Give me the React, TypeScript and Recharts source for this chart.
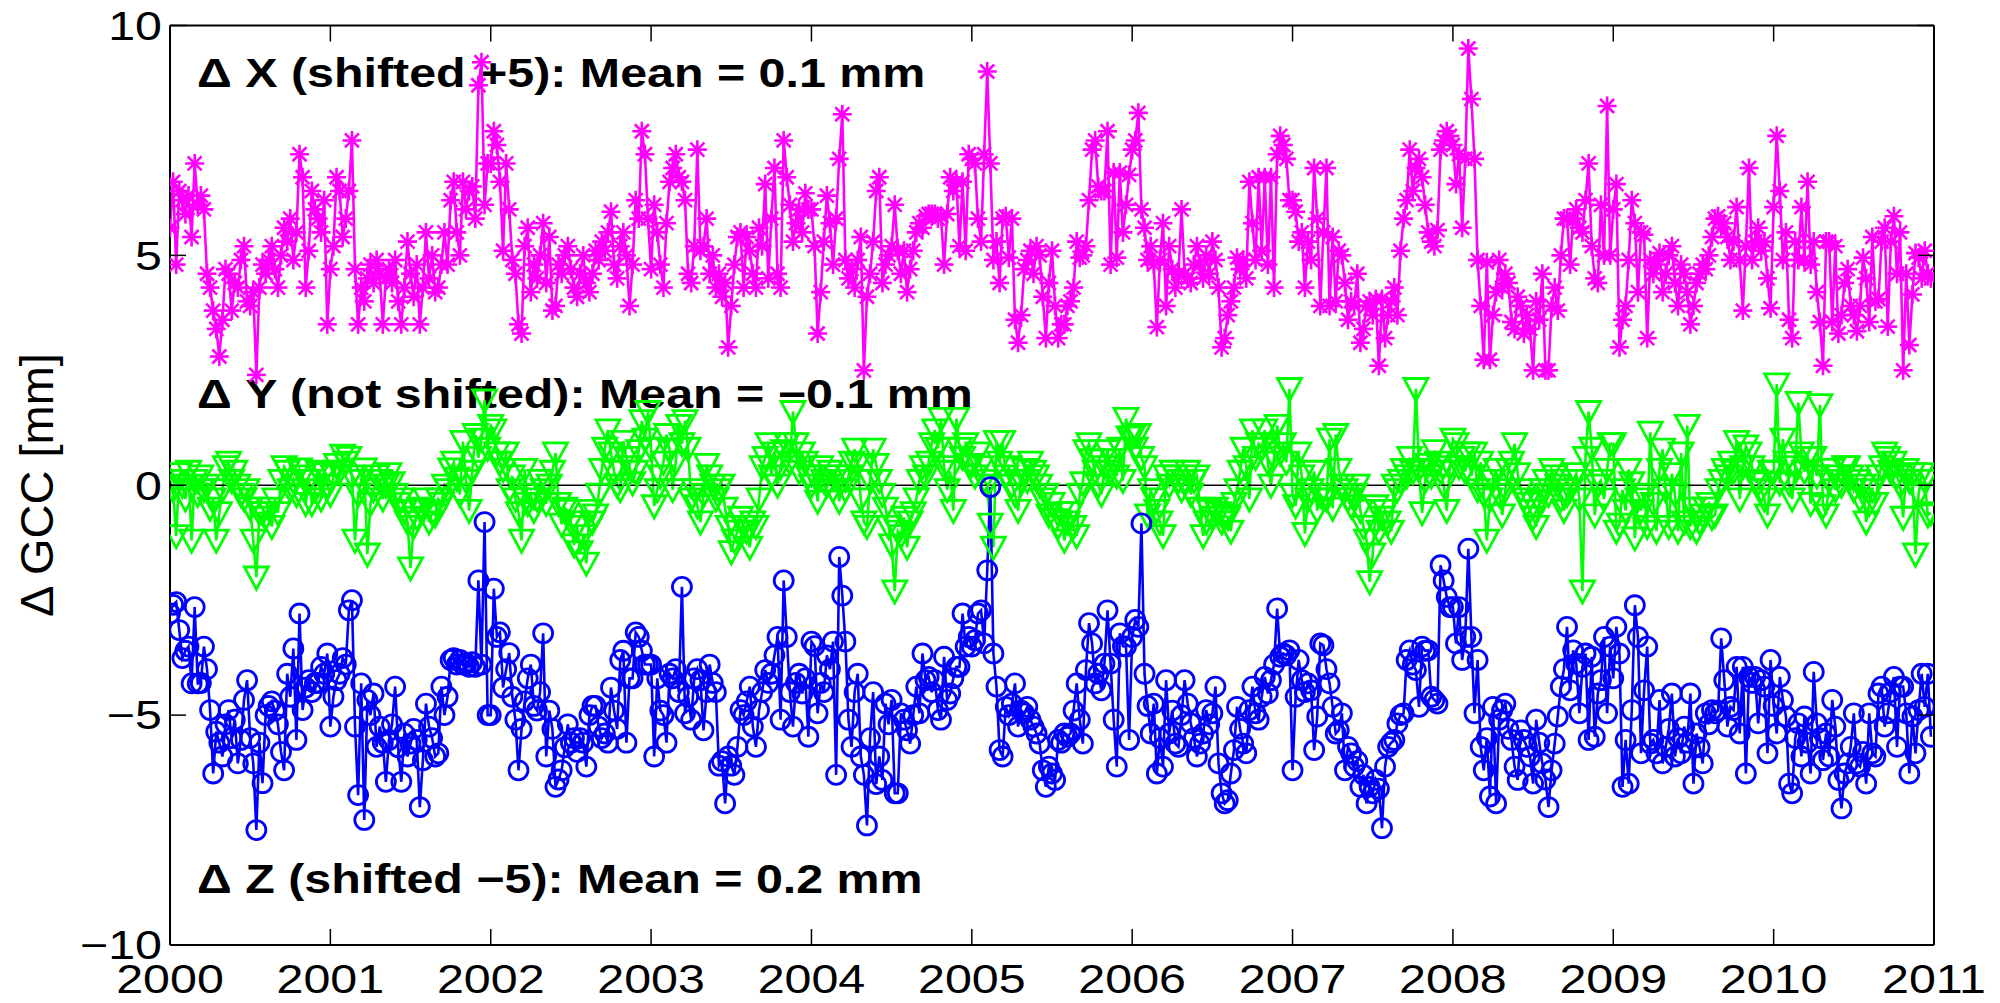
import React from 'react';
import { LineChart, Line, XAxis, YAxis, ReferenceLine } from 'recharts';

// ---------- tick labels ----------
const xTicks = [2000, 2001, 2002, 2003, 2004, 2005, 2006, 2007, 2008, 2009, 2010, 2011];
const yTicks = [-10, -5, 0, 5, 10];
const startYear = 2000;
const samplesPerYear = 52;

// ---------- series (weekly) ----------
// Delta X, shown shifted by +5 mm
const dXShifted = [
  // 2000
  5.6, 6.6, 4.8, 6.4, 6.2, 5.9, 6.3, 5.4, 7.0, 6.1, 6.3, 6.0, 4.6, 4.3, 3.8, 3.4, 2.8, 3.6, 4.7, 4.6, 3.8, 4.4, 4.3, 4.9, 5.2, 4.0,
  3.9, 4.2, 2.4, 4.3, 4.8, 4.6, 4.9, 5.2, 4.7, 4.3, 5.0, 5.6, 5.3, 5.8, 4.9, 5.5, 7.2, 6.7, 4.3, 5.1, 6.4, 6.0, 5.8, 5.5, 6.2, 3.5,
  // 2001
  4.7, 5.2, 6.7, 6.4, 5.4, 5.8, 6.4, 7.5, 4.7, 3.5, 4.3, 4.0, 4.5, 4.8, 4.4, 4.9, 4.6, 3.5, 4.5, 4.7, 4.4, 4.9, 4.0, 3.5, 4.3, 5.3,
  4.6, 4.1, 4.8, 3.5, 4.3, 5.5, 4.5, 5.0, 4.2, 4.3, 4.8, 5.5, 4.8, 6.2, 6.6, 5.5, 5.0, 6.6, 6.0, 6.4, 6.5, 5.8, 8.7, 9.2, 6.1, 7.0,
  // 2002
  7.0, 7.7, 7.4, 6.6, 5.1, 7.0, 6.0, 4.9, 4.6, 3.5, 3.3, 5.2, 5.6, 4.2, 4.8, 4.5, 5.0, 5.7, 4.4, 5.4, 3.8, 3.9, 4.8, 4.6, 5.0, 5.2,
  4.7, 4.3, 4.1, 4.6, 5.0, 4.4, 4.2, 4.6, 5.1, 4.9, 5.3, 5.1, 5.5, 5.95, 4.8, 4.5, 5.2, 5.5, 5.0, 3.9, 4.8, 6.2, 5.8, 7.7, 7.2, 5.8,
  // 2003
  4.7, 6.1, 5.5, 4.8, 4.3, 5.7, 6.6, 6.9, 7.2, 6.7, 6.6, 6.2, 4.6, 4.4, 5.2, 7.3, 5.1, 5.2, 5.8, 4.6, 5.0, 4.3, 4.6, 4.1, 4.4, 3.0,
  3.9, 4.8, 5.4, 5.5, 4.3, 5.4, 5.1, 4.6, 4.3, 5.6, 5.2, 6.55, 4.5, 5.8, 6.9, 4.6, 4.3, 7.5, 6.7, 6.1, 5.3, 5.7, 6.0, 5.5, 6.35, 6.0,
  // 2004
  6.0, 5.2, 3.3, 4.2, 5.3, 6.3, 5.7, 4.8, 5.8, 7.1, 8.07, 4.9, 4.5, 4.7, 4.3, 4.9, 5.4, 2.5, 4.1, 4.6, 5.3, 6.4, 6.7, 4.4, 4.8, 5.0,
  5.2, 6.1, 5.1, 4.6, 5.1, 4.2, 4.7, 5.1, 5.5, 5.7, 5.6, 5.85, 5.9, 5.9, 5.9, 5.8, 5.85, 4.8, 5.9, 6.7, 6.4, 6.6, 5.2, 6.6, 5.1, 7.2,
  // 2005
  7.1, 7.0, 5.8, 5.3, 7.2, 9.0, 7.0, 4.9, 5.3, 4.4, 5.8, 5.85, 4.95, 5.8, 3.6, 3.1, 3.7, 4.7, 4.9, 5.1, 4.6, 5.2, 5.0, 4.1, 3.2, 4.4,
  5.1, 3.9, 3.2, 3.5, 3.5, 3.9, 4.0, 4.3, 5.3, 4.95, 5.0, 5.2, 6.2, 7.3, 7.5, 6.5, 6.4, 6.4, 7.7, 4.8, 6.8, 4.95, 6.8, 5.5, 6.1, 6.75,
  // 2006
  7.3, 7.5, 8.1, 6.0, 5.6, 4.9, 5.2, 4.8, 3.44, 4.9, 5.7, 3.9, 5.2, 4.7, 4.3, 4.6, 6.0, 4.6, 4.5, 4.4, 4.8, 5.2, 4.8, 4.5, 5.0, 4.6,
  5.3, 4.9, 4.3, 3.0, 3.2, 3.7, 4.0, 4.3, 4.95, 4.7, 4.9, 4.5, 6.6, 5.7, 4.9, 6.7, 5.1, 6.7, 4.8, 6.7, 4.3, 7.2, 7.6, 7.4, 7.1, 6.2,
  // 2007
  6.2, 5.95, 5.3, 5.5, 4.3, 5.3, 4.9, 6.9, 5.8, 3.9, 5.5, 6.9, 3.9, 5.4, 4.0, 5.1, 5.0, 4.4, 3.6, 4.0, 3.9, 4.6, 3.1, 3.4, 3.9, 4.0,
  3.7, 4.05, 2.6, 4.05, 3.2, 3.7, 4.0, 4.3, 3.7, 5.1, 5.8, 6.2, 7.3, 6.4, 6.9, 7.1, 6.7, 6.1, 5.5, 5.3, 5.2, 5.55, 7.3, 7.5, 7.7, 7.6,
  // 2008
  7.4, 6.55, 7.2, 5.6, 7.1, 9.5, 8.4, 7.1, 4.9, 3.9, 2.73, 4.85, 2.73, 3.7, 4.2, 4.9, 4.3, 4.6, 4.4, 3.55, 3.4, 4.1, 3.9, 3.3, 3.7, 3.4,
  2.5, 4.0, 3.6, 4.6, 2.5, 2.5, 3.9, 4.3, 3.8, 5.0, 5.8, 5.8, 4.8, 5.8, 6.0, 5.6, 5.5, 6.2, 7.0, 5.2, 4.5, 4.4, 6.1, 5.0, 8.25, 5.0,
  // 2009
  6.0, 6.55, 3.0, 3.6, 3.9, 4.9, 6.2, 5.7, 4.2, 5.5, 5.45, 3.2, 4.9, 4.6, 4.8, 5.05, 4.2, 4.6, 5.0, 5.2, 4.4, 3.9, 4.8, 4.6, 4.2, 3.5,
  3.9, 4.4, 4.6, 4.8, 4.7, 5.0, 5.4, 5.8, 5.85, 5.6, 5.7, 5.4, 4.9, 5.3, 6.05, 4.9, 3.8, 5.2, 6.9, 4.9, 5.3, 5.6, 5.1, 5.3, 4.5, 3.85,
  // 2010
  6.05, 7.6, 6.4, 4.9, 5.5, 3.6, 3.2, 5.3, 4.9, 6.05, 4.9, 6.6, 4.8, 5.3, 4.2, 3.55, 2.6, 5.3, 5.3, 3.55, 5.2, 3.3, 3.7, 4.4, 4.7, 3.9,
  3.7, 3.35, 3.9, 4.95, 4.5, 3.55, 5.4, 4.0, 4.05, 5.3, 5.6, 3.45, 5.3, 5.85, 4.6, 5.5, 2.5, 4.6, 3.05, 4.15, 5.05, 4.95, 4.5, 5.1, 4.6, 4.5,
];

// Delta Y, not shifted
const dY = [
  // 2000
  0.1, -0.1, -1.1, 0.25, 0.0, -0.3, 0.3, -1.2, 0.1, -0.2, 0.2, -0.1, 0.0, -0.5, -0.3, -1.2, -0.6, -0.1, 0.4, 0.5, 0.1, 0.3, 0.0, -0.2, -0.3, -0.1,
  -0.5, -1.2, -2.0, -0.6, -0.6, -0.7, -0.5, -0.9, -0.3, -0.6, 0.1, 0.4, 0.3, -0.1, 0.1, -0.2, 0.35, 0.2, -0.4, 0.1, -0.4, -0.1, 0.3, -0.3, 0.25, 0.0,
  // 2001
  -0.2, 0.2, 0.45, 0.3, 0.65, 0.5, 0.6, 0.2, -1.2, -0.2, 0.1, 0.35, -1.5, -0.4, -0.1, 0.2, 0.1, -0.3, 0.0, 0.25, 0.05, -0.2, -0.4, -0.3, -0.55, -0.8,
  -1.8, -0.9, -0.7, -0.5, -0.55, -0.3, -0.8, -0.6, -0.65, -0.3, -0.4, 0.0, -0.1, 0.35, 0.5, 0.15, -0.2, 0.95, 0.1, -0.55, 0.3, 1.1, 0.6, 1.0, 1.85, 0.8,
  // 2002
  1.3, 1.2, 0.7, 0.5, 0.34, 0.7, -0.1, 0.2, -0.3, -0.6, -1.2, 0.34, -0.4, -0.2, -0.55, -0.3, 0.1, -0.1, -0.4, 0.0, 0.3, 0.7, -0.4, -0.85, -0.5, -0.55,
  -0.8, -1.3, -0.9, -1.45, -1.1, -1.7, -0.55, -0.8, -0.65, -0.2, 0.34, 0.8, 1.2, 0.7, 0.3, 0.0, -0.1, 0.95, 0.6, 0.4, 0.05, 0.3, 0.75, 1.4, 1.0, 1.6,
  // 2003
  0.8, -0.45, -0.1, 0.2, 0.5, 1.1, 0.78, -0.1, 0.5, 1.3, 0.9, 1.4, 0.8, -0.3, -0.1, -0.45, -0.8, -0.2, 0.45, 0.2, 0.0, -0.3, -0.1, 0.0, -0.5, -0.9,
  -1.45, -1.2, -1.0, -0.7, -0.9, -1.0, -1.35, -0.8, -0.9, -0.3, 0.4, 0.6, 0.9, 0.2, 0.7, 0.0, 0.4, 0.75, 0.9, 0.5, 1.6, 0.9, 0.3, 0.7, 0.5, 0.2,
  // 2004
  0.0, 0.2, -0.35, 0.4, 0.1, 0.0, 0.3, -0.1, 0.2, -0.35, 0.1, -0.1, 0.2, 0.5, 0.78, 0.45, -0.3, -0.8, -0.9, 0.1, 0.78, 0.45, 0.1, -0.2, -0.5, -0.9,
  -1.3, -2.3, -1.0, -1.1, -0.7, -1.35, -0.8, -0.6, -0.3, 0.1, 0.4, 0.2, 0.5, 0.9, 1.2, 0.8, 1.45, 0.4, -0.1, 0.3, -0.55, 1.45, 0.8, 0.6, 0.9, 0.45,
  // 2005
  0.45, 0.2, 0.7, 0.4, 0.1, 0.0, -0.85, -1.35, 0.95, 0.5, 0.95, 0.2, 0.4, 0.0, -0.2, -0.55, 0.1, 0.34, 0.1, 0.5, 0.3, 0.2, 0.0, -0.3, -0.2, -0.65,
  -0.4, -0.75, -0.9, -0.6, -1.2, -0.8, -0.6, -0.9, -1.1, -0.2, 0.05, 0.75, 0.9, 0.55, 0.3, 0.0, -0.2, 0.4, 0.75, 0.3, 0.55, 0.2, 0.8, 0.1, 1.45, 1.05,
  // 2006
  1.05, 0.8, 1.1, 0.6, 0.4, -0.65, -0.1, -0.3, -0.55, -0.8, -1.1, 0.2, 0.0, 0.3, 0.2, 0.1, -0.1, 0.1, 0.3, -0.2, 0.1, 0.2, -0.5, -1.1, -0.8, -0.55,
  -0.7, -0.5, -0.6, -0.8, -0.65, -0.7, -1.0, -0.4, -0.1, 0.3, 0.8, 0.4, -0.3, 1.2, 0.6, 0.9, 0.8, 1.2, 0.5, 0.0, 0.6, 1.3, 0.7, 0.9, 0.5, 2.1,
  // 2007
  -0.2, -0.45, 0.7, 0.2, -1.05, -0.3, -0.1, 0.3, -0.55, -0.2, -0.3, -0.3, 1.0, -0.5, 1.1, 0.34, 0.0, -0.1, -0.3, -0.45, -0.2, 0.0, -0.55, -0.9, -1.2, -2.1,
  -1.5, -0.45, -1.0, -0.7, -0.55, -0.8, -1.0, 0.0, -0.1, 0.1, 0.34, 0.2, 0.6, 0.3, 2.1, 0.34, -0.6, 0.1, 0.45, 0.2, 0.75, 0.5, 0.3, 0.0, -0.55, 0.4,
  // 2008
  1.0, 0.9, 0.4, 0.6, 0.3, 0.7, 0.2, 0.7, -0.1, 0.5, -0.2, -1.2, -0.3, 0.1, 0.34, -0.2, -0.65, -0.1, 0.34, 0.5, 0.9, 0.25, -0.1, -0.3, -0.4, -0.55,
  -0.7, -0.9, -0.35, -0.1, 0.1, -0.2, 0.34, 0.2, 0.0, -0.3, -0.55, -0.2, -0.1, 0.1, 0.25, -0.3, -2.3, 0.6, 1.6, 0.8, -0.65, 0.0, 0.1, -0.3, 0.34, 0.9,
  // 2009
  0.9, -1.0, -0.85, -0.1, -0.55, 0.34, 0.05, -1.15, -0.3, -0.55, -0.2, -0.9, 1.15, -0.4, -1.0, 0.34, 0.78, -0.1, -0.9, 0.25, -0.2, -1.0, 0.7, -0.8, 1.3, -0.9,
  -0.5, -1.0, -0.8, -0.65, -0.5, -0.4, -0.7, -0.65, -0.1, 0.1, 0.34, 0.2, 0.5, 0.3, 0.95, -0.3, 0.4, 0.85, 0.7, 0.4, 0.1, 0.05, -0.1, -0.3, -0.65, 0.3,
  // 2010
  0.3, 2.2, 0.05, 1.0, 0.5, 0.05, -0.3, 0.4, 1.8, 0.7, 0.3, 0.6, -0.4, 0.6, 0.2, 1.75, -0.45, -0.65, 0.1, 0.34, -0.1, 0.2, 0.0, 0.4, 0.4, 0.2,
  -0.1, 0.1, -0.3, 0.0, -0.8, -0.4, -0.1, -0.4, 0.2, 0.4, 0.7, 0.6, 0.3, 0.5, 0.2, 0.0, -0.7, 0.34, 0.1, 0.25, -1.5, -0.2, 0.25, 0.1, -0.65, -0.6,
];

// Delta Z, shown shifted by -5 mm
const dZShifted = [
  // 2000
  -2.79, -2.6, -2.54, -3.15, -3.76, -3.6, -3.51, -4.31, -2.65, -4.31, -4.3, -3.51, -4.0, -4.89, -6.27, -5.36, -5.6, -5.9, -5.2, -4.89, -5.5, -5.1, -6.05, -5.54, -4.67, -4.24,
  -5.5, -6.05, -7.5, -5.6, -6.48, -5.0, -4.8, -4.7, -4.9, -5.2, -5.8, -6.2, -4.1, -4.6, -3.55, -5.54, -2.79, -4.89, -4.4, -4.24, -4.5, -4.3, -4.3, -3.95, -4.1, -3.66,
  // 2001
  -5.25, -4.6, -4.24, -4.1, -3.76, -3.9, -2.72, -2.5, -5.25, -6.74, -4.31, -7.28, -4.67, -5.0, -4.53, -5.69, -5.25, -5.6, -6.45, -5.54, -5.2, -4.38, -5.7, -6.45, -5.4, -5.9,
  -5.62, -5.3, -5.54, -7.0, -5.98, -4.75, -5.25, -5.5, -5.9, -5.83, -4.38, -5.0, -4.6, -3.8, -3.76, -3.9, -3.8, -3.9, -3.87, -3.95, -3.85, -3.95, -2.07, -3.9, -0.8, -5.0,
  // 2002
  -5.0, -2.25, -3.3, -3.2, -4.4, -4.0, -3.65, -4.6, -5.1, -6.2, -5.3, -4.7, -4.2, -3.9, -4.8, -4.9, -4.5, -3.22, -5.9, -4.9, -5.3, -6.56, -6.4, -6.2, -5.7, -5.2,
  -5.6, -5.5, -5.8, -5.5, -5.6, -6.12, -5.0, -4.8, -4.8, -5.25, -5.5, -5.4, -5.6, -4.4, -4.9, -5.3, -3.8, -3.6, -5.6, -4.2, -4.2, -3.2, -3.3, -3.6, -3.9, -3.9,
  // 2003
  -3.9, -5.9, -4.2, -4.9, -5.0, -5.6, -4.1, -4.2, -4.0, -4.5, -2.21, -4.96, -4.6, -5.1, -4.2, -4.0, -4.24, -5.33, -4.5, -3.9, -4.3, -4.5, -6.1, -6.0, -6.92, -5.9,
  -6.1, -6.3, -5.69, -4.89, -5.0, -4.7, -4.38, -5.25, -5.69, -4.89, -4.5, -4.02, -4.3, -4.1, -3.7, -3.3, -5.1, -2.07, -3.3, -4.5, -5.25, -4.3, -4.1, -4.53, -4.2, -5.47,
  // 2004
  -3.4, -3.5, -4.96, -4.3, -4.5, -3.7, -4.0, -3.4, -6.3, -1.56, -2.4, -3.4, -5.1, -5.69, -4.5, -4.1, -5.9, -6.3, -7.4, -5.5, -4.5, -6.5, -5.9, -6.41, -4.75, -5.2,
  -4.67, -6.7, -6.7, -4.96, -5.1, -5.33, -5.62, -5.0, -4.38, -4.96, -3.66, -4.24, -4.17, -4.5, -4.24, -4.89, -5.1, -3.73, -4.67, -4.53, -4.2, -3.95, -3.95, -2.79, -3.51, -3.3,
  // 2005
  -3.51, -3.37, -2.79, -2.72, -3.44, -1.85, -0.04, -3.66, -4.38, -5.76, -5.9, -4.82, -5.0, -4.75, -4.31, -5.25, -4.9, -4.96, -4.82, -5.1, -5.25, -5.4, -5.62, -6.2, -6.56, -6.12,
  -6.27, -6.41, -5.54, -5.6, -5.4, -5.47, -5.4, -4.9, -4.31, -5.1, -5.62, -4.02, -3.0, -3.44, -4.31, -4.1, -4.46, -3.88, -2.72, -3.88, -5.1, -6.12, -3.22, -3.5, -3.51, -5.54,
  // 2006
  -3.3, -2.93, -3.08, -0.83, -4.1, -4.8, -5.4, -4.75, -6.27, -5.5, -6.12, -4.24, -5.4, -4.9, -5.62, -5.69, -5.0, -4.24, -4.75, -5.18, -5.5, -5.9, -5.62, -5.4, -4.89, -5.2,
  -4.96, -4.38, -6.05, -6.7, -6.92, -6.85, -6.27, -5.76, -4.82, -5.3, -5.62, -5.83, -4.89, -4.38, -4.96, -5.1, -4.6, -4.17, -4.53, -4.24, -3.9, -2.68, -3.73, -3.66, -3.7, -3.59,
  // 2007
  -6.2, -4.6, -3.8, -4.24, -4.5, -4.31, -4.46, -5.76, -5.03, -3.44, -3.48, -4.0, -4.31, -4.82, -5.4, -5.33, -4.96, -6.2, -5.69, -5.83, -6.12, -6.0, -6.56, -6.3, -6.92, -6.56,
  -6.7, -6.41, -6.6, -7.46, -6.12, -5.69, -5.6, -5.54, -5.18, -5.0, -4.96, -3.8, -3.59, -3.9, -4.02, -4.82, -3.51, -3.6, -3.59, -4.6, -4.67, -4.75, -1.74, -2.07, -2.43, -2.65,
  // 2008
  -2.65, -3.44, -2.65, -3.8, -3.3, -1.38, -3.3, -4.96, -3.8, -5.69, -6.2, -5.5, -6.77, -4.82, -6.92, -5.1, -4.89, -4.75, -5.3, -5.54, -6.12, -6.41, -5.33, -5.54, -5.69, -5.9,
  -6.49, -5.1, -5.6, -6.05, -6.4, -7.0, -6.2, -5.62, -5.03, -4.38, -4.0, -3.08, -4.46, -3.59, -3.88, -4.96, -3.95, -3.66, -5.54, -3.73, -5.47, -4.53, -4.24, -3.3, -4.96, -3.51,
  // 2009
  -4.2, -3.08, -3.66, -6.56, -5.54, -6.49, -4.89, -2.61, -3.3, -5.83, -4.46, -3.51, -5.62, -5.54, -5.83, -4.67, -6.05, -5.69, -5.3, -4.53, -5.9, -5.5, -5.83, -5.25, -5.6, -4.53,
  -6.49, -5.4, -5.7, -6.05, -4.96, -5.2, -4.89, -4.96, -4.9, -3.33, -4.24, -5.25, -4.82, -4.89, -3.95, -5.4, -3.95, -6.27, -4.17, -4.3, -4.17, -5.18, -4.24, -4.38, -5.83, -3.8,
  // 2010
  -4.8, -5.4, -4.17, -4.67, -5.03, -6.49, -6.7, -5.5, -5.18, -5.9, -5.03, -5.6, -6.27, -4.06, -5.18, -5.5, -5.98, -5.4, -5.9, -4.67, -5.25, -6.41, -7.03, -6.27, -6.05, -5.69,
  -4.96, -6.05, -6.12, -5.8, -6.49, -4.96, -5.83, -5.9, -4.53, -4.38, -5.25, -4.96, -4.5, -4.17, -5.69, -4.38, -4.38, -4.96, -6.27, -5.03, -5.83, -4.89, -4.1, -4.82, -4.1, -5.47,
];

const annotations = [
  { label: '\u0394 X (shifted +5): Mean = 0.1 mm', baseline: 87 },
  { label: '\u0394 Y (not shifted): Mean = \u22120.1 mm', baseline: 408 },
  { label: '\u0394 Z (shifted \u22125): Mean = 0.2 mm', baseline: 893 },
];

// ---------- table built from the arrays ----------
const data = dXShifted.map((v, i) => ({
  t: startYear + i / samplesPerYear,
  x: v,
  y: dY[i],
  z: dZShifted[i],
}));

// ---------- layout ----------
const W = 2000;
const H = 1003;
const PLOT_LEFT = 170;
const PLOT_RIGHT = 1934;
const PLOT_TOP = 25.5;
const PLOT_BOTTOM = 945;
const TICK_LEN = 16;
const FONT = '"Liberation Sans", Arial, Helvetica, sans-serif';
const STRETCH = 1.21;

const MAGENTA = '#ff00ff';
const GREEN = '#00ff00';
const BLUE = '#0000ff';
const SERIES_WIDTH = 2.6;

const fmt = (v: number) => (v < 0 ? '\u2212' + Math.abs(v) : String(v));

const XTick = (props: any) => {
  const { x, payload } = props;
  return (
    <g>
      <line x1={x} x2={x} y1={PLOT_BOTTOM} y2={PLOT_BOTTOM - TICK_LEN} stroke="#000" strokeWidth={1.5} />
      <line x1={x} x2={x} y1={PLOT_TOP} y2={PLOT_TOP + TICK_LEN} stroke="#000" strokeWidth={1.5} />
      <text
        transform={`translate(${x},993) scale(${STRETCH},1)`}
        textAnchor="middle"
        fontFamily={FONT}
        fontSize={40}
        fill="#000"
      >
        {payload.value}
      </text>
    </g>
  );
};

const YTick = (props: any) => {
  const { y, payload } = props;
  return (
    <g>
      <line x1={PLOT_LEFT} x2={PLOT_LEFT + TICK_LEN} y1={y} y2={y} stroke="#000" strokeWidth={1.5} />
      <line x1={PLOT_RIGHT} x2={PLOT_RIGHT - TICK_LEN} y1={y} y2={y} stroke="#000" strokeWidth={1.5} />
      <text
        transform={`translate(162,${y + 14.3}) scale(${STRETCH},1)`}
        textAnchor="end"
        fontFamily={FONT}
        fontSize={40}
        fill="#000"
      >
        {fmt(payload.value)}
      </text>
    </g>
  );
};

const AsteriskDot = (props: any) => {
  const { cx, cy, index } = props;
  if (cx == null || cy == null) return <g key={`a${index}`} />;
  const a = 9.5;
  const d = 7;
  return (
    <g key={`a${index}`} stroke={MAGENTA} strokeWidth={2.6}>
      <line x1={cx - a} y1={cy} x2={cx + a} y2={cy} />
      <line x1={cx} y1={cy - a} x2={cx} y2={cy + a} />
      <line x1={cx - d} y1={cy - d} x2={cx + d} y2={cy + d} />
      <line x1={cx - d} y1={cy + d} x2={cx + d} y2={cy - d} />
    </g>
  );
};

const TriangleDot = (props: any) => {
  const { cx, cy, index } = props;
  if (cx == null || cy == null) return <g key={`t${index}`} />;
  const h = 12;
  return (
    <path
      key={`t${index}`}
      d={`M${cx - h},${cy - h * 0.85}L${cx + h},${cy - h * 0.85}L${cx},${cy + h}Z`}
      fill="none"
      stroke={GREEN}
      strokeWidth={2.8}
      strokeLinejoin="miter"
    />
  );
};

const CircleDot = (props: any) => {
  const { cx, cy, index } = props;
  if (cx == null || cy == null) return <g key={`c${index}`} />;
  return <circle key={`c${index}`} cx={cx} cy={cy} r={9.5} fill="none" stroke={BLUE} strokeWidth={2.8} />;
};

export default function App() {
  return (
    <div style={{ position: 'absolute', left: 0, top: 0, width: W, height: H, background: '#fff', overflow: 'hidden' }}>
      {/* text layer, below the data */}
      <svg width={W} height={H} style={{ position: 'absolute', left: 0, top: 0 }}>
        {annotations.map((a) => (
          <text
            key={a.label}
            transform={`translate(197,${a.baseline}) scale(${STRETCH},1)`}
            fontFamily={FONT}
            fontWeight="bold"
            fontSize={40}
            fill="#000"
          >
            {a.label}
          </text>
        ))}
        <text
          transform="translate(53,485) rotate(-90)"
          textAnchor="middle"
          fontFamily={FONT}
          fontSize={47}
          fill="#000"
        >
          {'\u0394 GCC [mm]'}
        </text>
      </svg>
      <div style={{ position: 'absolute', left: 0, top: 0 }}>
        <LineChart
          width={W}
          height={H}
          data={data}
          margin={{ top: PLOT_TOP, right: W - PLOT_RIGHT, bottom: H - PLOT_BOTTOM - 40, left: PLOT_LEFT - 100 }}
        >
          <XAxis
            dataKey="t"
            type="number"
            domain={[2000, 2011]}
            ticks={xTicks}
            interval={0}
            allowDataOverflow
            height={40}
            tickLine={false}
            axisLine={{ stroke: '#000', strokeWidth: 2 }}
            tick={<XTick />}
          />
          <YAxis
            type="number"
            domain={[-10, 10]}
            ticks={yTicks}
            interval={0}
            allowDataOverflow
            width={100}
            tickLine={false}
            axisLine={{ stroke: '#000', strokeWidth: 2 }}
            tick={<YTick />}
          />
          <ReferenceLine y={10} stroke="#000" strokeWidth={2} />
          <ReferenceLine x={2011} stroke="#000" strokeWidth={2} />
          <Line
            type="linear"
            dataKey="x"
            stroke={MAGENTA}
            strokeWidth={SERIES_WIDTH}
            dot={AsteriskDot}
            activeDot={false}
            isAnimationActive={false}
          />
          <Line
            type="linear"
            dataKey="y"
            stroke={GREEN}
            strokeWidth={SERIES_WIDTH}
            dot={TriangleDot}
            activeDot={false}
            isAnimationActive={false}
          />
          <Line
            type="linear"
            dataKey="z"
            stroke={BLUE}
            strokeWidth={SERIES_WIDTH}
            dot={CircleDot}
            activeDot={false}
            isAnimationActive={false}
          />
          <ReferenceLine y={0} stroke="#000" strokeWidth={1.5} />
        </LineChart>
      </div>
    </div>
  );
}
